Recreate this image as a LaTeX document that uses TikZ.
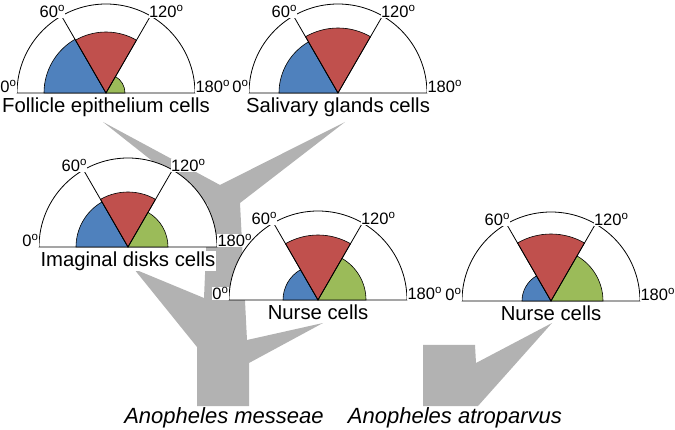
\documentclass[tikz,border=0pt]{standalone}
\usepackage{fontspec}
\setmainfont{Liberation Sans}
\usetikzlibrary{positioning}

\definecolor{fanblue}{RGB}{79,129,189}
\definecolor{fanred}{RGB}{192,80,77}
\definecolor{fangreen}{RGB}{155,187,89}
\definecolor{treegray}{RGB}{178,178,178}
\newcommand{\dego}{\textsuperscript{o}}

\begin{document}
\begin{tikzpicture}[x=1pt, y=-1pt,
    branch/.style = {fill=treegray},
    fan/.style = {draw, fill=white, line width=0.8pt},
    sector/.style = {draw, line width=0.6pt},
    ray/.style = {draw, line width=0.8pt},
    deg/.style = {font=\fontsize{16.5}{18}\selectfont, fill=white, inner sep=0.3pt},
    cell/.style = {font=\fontsize{20.3}{22}\selectfont, fill=white, inner sep=0.5pt},
    species/.style = {font=\fontsize{22}{24}\selectfont\itshape, inner sep=0pt}]
  \useasboundingbox (0,0) rectangle (675,430);
  % Gray trees
  \fill[branch] (197,406) -- (197,347) -- (134,269) -- (204,298) -- (208,205)
    -- (103,122) -- (220,185) -- (345,122) -- (240,203) -- (247,340)
    -- (323,323) -- (249,363) -- (249,406) -- cycle;
  \fill[branch] (423,345) -- (475,345) -- (476,363) -- (552,323)
    -- (478,406) -- (423,406) -- cycle;
  % Fans: name/centre x/centre y/blue/red/green/label
  \foreach \n/\cx/\cy/\rb/\rr/\rg/\txt in {
      fol/106/93/62/61/19/Follicle epithelium cells,
      sal/338/93/59/65/0/Salivary glands cells,
      ima/128/247/52/55/40/Imaginal disks cells,
      nme/318/300/35/65/48/Nurse cells,
      nat/551/301/29/67/52/Nurse cells} {
    \coordinate (\n) at (\cx,\cy);
    \path[fan] (\n) ++(-180:89) arc[start angle=-180, end angle=0, radius=89] -- cycle;
    \path[sector, fill=fanblue] (\n) -- ++(-180:\rb) arc[start angle=-180, end angle=-120, radius=\rb] -- cycle;
    \path[sector, fill=fanred] (\n) -- ++(-120:\rr) arc[start angle=-120, end angle=-60, radius=\rr] -- cycle;
    \ifnum\rg>0
      \path[sector, fill=fangreen] (\n) -- ++(-60:\rg) arc[start angle=-60, end angle=0, radius=\rg] -- cycle;
    \fi
    \path[ray] (\n) -- ++(-120:89) coordinate (\n-a);
    \path[ray] (\n) -- ++(-60:89) coordinate (\n-b);
    \node[deg, anchor=base east] (\n-0) at ([xshift=-89pt]\n) {0\dego};
    \node[deg, anchor=base west] (\n-180) at ([xshift=89pt]\n) {180\dego};
    \node[deg, anchor=base east] (\n-60) at ([xshift=4pt, yshift=-1.5pt]\n-a) {60\dego};
    \node[deg, anchor=base west] (\n-120) at ([xshift=-2pt, yshift=-1.5pt]\n-b) {120\dego};
    \node[cell, anchor=base] (\n-lab) at ([yshift=-19.5pt]\n) {\txt};
  }
  % Species
  \node[species, anchor=base] (mes) at (224,424) {Anopheles messeae};
  \node[species, anchor=base] (atr) at (455,424) {Anopheles atroparvus};
\end{tikzpicture}
\end{document}
